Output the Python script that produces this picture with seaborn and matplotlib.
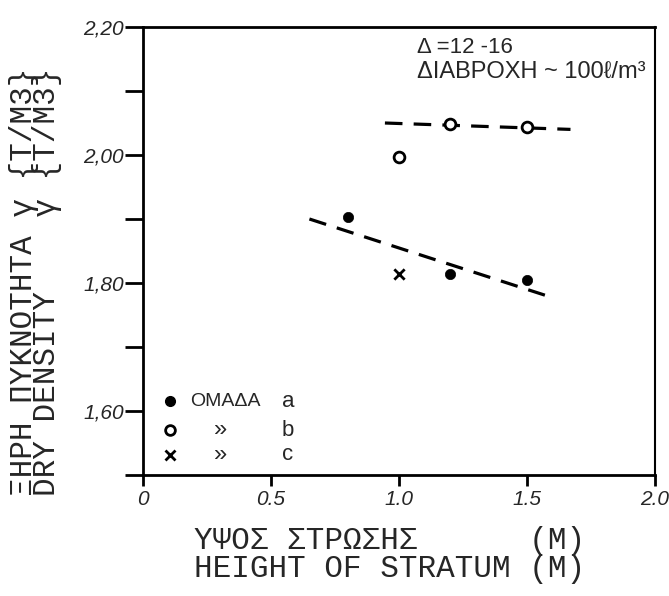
import matplotlib
matplotlib.use("Agg")
import matplotlib.pyplot as plt
import seaborn as sns
import pandas as pd

# ---- data ----
group_a_x = [0.8, 1.2, 1.5]
group_a_y = [1.903, 1.814, 1.805]
group_b_x = [1.0, 1.2, 1.5]
group_b_y = [1.997, 2.048, 2.044]
group_c_x = [1.0]
group_c_y = [1.814]

trend_a_x = [0.65, 1.57]
trend_a_y = [1.900, 1.781]
trend_b_x = [0.945, 1.67]
trend_b_y = [2.050, 2.040]

x_ticks = [0, 0.5, 1.0, 1.5, 2.0]
x_tick_labels = ["0", "0.5", "1.0", "1.5", "2.0"]
y_ticks = [1.6, 1.8, 2.0, 2.2]
y_tick_labels = ["1,60", "1,80", "2,00", "2,20"]
y_minor_ticks = [1.5, 1.7, 1.9, 2.1]

legend_rows = ["ΟΜΑΔΑ", "»", "»"]
legend_letters = ["a", "b", "c"]

sns.set_style("white")
plt.rcParams["font.family"] = ["Liberation Sans", "DejaVu Sans"]

fig = plt.figure(figsize=(6.69, 5.96), dpi=100)
ax = fig.add_axes([0.2138, 0.203, 0.979 - 0.2138, 0.9547 - 0.203])

df_a = pd.DataFrame({"x": group_a_x, "y": group_a_y})
df_b = pd.DataFrame({"x": group_b_x, "y": group_b_y})
df_c = pd.DataFrame({"x": group_c_x, "y": group_c_y})

dash = (0, (5.5, 3.5))
sns.lineplot(x=trend_a_x, y=trend_a_y, ax=ax, color="black", lw=2.3,
             linestyle=dash, sort=False, estimator=None)
sns.lineplot(x=trend_b_x, y=trend_b_y, ax=ax, color="black", lw=2.3,
             linestyle=dash, sort=False, estimator=None)

sns.scatterplot(data=df_a, x="x", y="y", ax=ax, color="black", marker="o",
                s=55, edgecolor="black", linewidth=0.5, zorder=5)
sns.scatterplot(data=df_b, x="x", y="y", ax=ax, marker="o", s=60,
                facecolor="white", edgecolor="black", linewidth=2.0, zorder=5)
sns.scatterplot(data=df_c, x="x", y="y", ax=ax, color="black", marker="x",
                s=55, linewidth=2.0, zorder=5)

ax.set_xlim(0, 2.0)
ax.set_ylim(1.5, 2.2)
ax.set_xticks(x_ticks)
ax.set_xticklabels(x_tick_labels, fontsize=15, style="italic")
ax.set_yticks(y_ticks)
ax.set_yticklabels(y_tick_labels, fontsize=15, style="italic")
ax.set_yticks(y_minor_ticks, minor=True)

ax.tick_params(axis="y", which="both", direction="out", length=13, width=2,
               pad=1, left=True, color="black")
ax.tick_params(axis="x", which="both", direction="out", length=8, width=2,
               pad=3, bottom=True, color="black")
for s in ax.spines.values():
    s.set_visible(True)
    s.set_color("black")
    s.set_linewidth(2.0)
ax.spines["right"].set_linewidth(1.5)
ax.grid(False)

# axis labels (monospace, two languages)
mono = ["Liberation Mono", "DejaVu Sans Mono"]
ax.set_xlabel("ΥΨΟΣ ΣΤΡΩΣΗΣ      (M)\nHEIGHT OF STRATUM (M)",
              family=mono, fontsize=22.3, linespacing=0.95)
ax.xaxis.set_label_coords(0.482, -0.113)
ax.set_ylabel("ΞΗΡΗ ΠΥΚΝΟΤΗΤΑ γ {T/M3}\nDRY DENSITY    γ {T/M3}",
              family=mono, fontsize=22.3, linespacing=0.7)
ax.yaxis.set_label_coords(-0.158, 0.432)

# annotation top right
ax.text(0.536, 0.978, "Δ =12 -16", transform=ax.transAxes, fontsize=16,
        va="top", ha="left")
ax.text(0.536, 0.925, "ΔΙΑΒΡΟΧΗ ~ 100ℓ/m³", transform=ax.transAxes,
        fontsize=17, va="top", ha="left")

# legend block (lower left)
row_y = [0.165, 0.10, 0.045]
ax.plot([0.053], [row_y[0]], "o", color="black", ms=7, transform=ax.transAxes)
ax.plot([0.053], [row_y[1]], "o", mfc="white", mec="black", mew=2, ms=7,
        transform=ax.transAxes)
ax.plot([0.053], [row_y[2]], "x", color="black", mew=2, ms=7,
        transform=ax.transAxes)
ax.text(0.092, row_y[0], legend_rows[0], transform=ax.transAxes, fontsize=14,
        va="center", ha="left")
for yy, t in zip(row_y[1:], legend_rows[1:]):
    ax.text(0.152, yy, t, transform=ax.transAxes, fontsize=17, va="center",
            ha="center")
for yy, t in zip(row_y, legend_letters):
    ax.text(0.283, yy, t, transform=ax.transAxes, fontsize=16, va="center",
            ha="center")

fig.savefig("out.png", dpi=100)
